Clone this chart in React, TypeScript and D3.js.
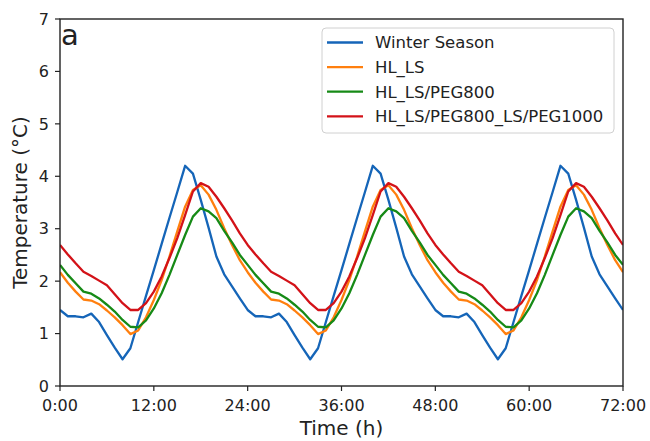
import React from "react";
import * as d3 from "d3";

// hourly readings, 0h .. 72h
const hours = d3.range(0, 73);

const winterSeason = [
  1.45, 1.33, 1.33, 1.31, 1.38, 1.22, 0.97, 0.73, 0.51, 0.72, 1.22, 1.72, 2.21, 2.71, 3.21, 3.7, 4.2, 4.05, 3.55, 3.02, 2.47, 2.13, 1.9, 1.67,
  1.45, 1.33, 1.33, 1.31, 1.38, 1.22, 0.97, 0.73, 0.51, 0.72, 1.22, 1.72, 2.21, 2.71, 3.21, 3.7, 4.2, 4.05, 3.55, 3.02, 2.47, 2.13, 1.9, 1.67,
  1.45, 1.33, 1.33, 1.31, 1.38, 1.22, 0.97, 0.73, 0.51, 0.72, 1.22, 1.72, 2.21, 2.71, 3.21, 3.7, 4.2, 4.05, 3.55, 3.02, 2.47, 2.13, 1.9, 1.67,
  1.45,
];
const hlLs = [
  2.17, 1.97, 1.8, 1.65, 1.63, 1.56, 1.44, 1.31, 1.16, 0.99, 1.06, 1.31, 1.64, 2.02, 2.47, 2.95, 3.42, 3.74, 3.83, 3.65, 3.36, 3.01, 2.69, 2.4,
  2.17, 1.97, 1.8, 1.65, 1.63, 1.56, 1.44, 1.31, 1.16, 0.99, 1.06, 1.31, 1.64, 2.02, 2.47, 2.95, 3.42, 3.74, 3.83, 3.65, 3.36, 3.01, 2.69, 2.4,
  2.17, 1.97, 1.8, 1.65, 1.63, 1.56, 1.44, 1.31, 1.16, 0.99, 1.06, 1.31, 1.64, 2.02, 2.47, 2.95, 3.42, 3.74, 3.83, 3.65, 3.36, 3.01, 2.69, 2.4,
  2.17,
];
const hlLsPeg800 = [
  2.31, 2.12, 1.96, 1.8, 1.76, 1.67, 1.55, 1.42, 1.26, 1.13, 1.12, 1.25, 1.48, 1.77, 2.12, 2.5, 2.88, 3.23, 3.39, 3.33, 3.2, 2.96, 2.74, 2.5,
  2.31, 2.12, 1.96, 1.8, 1.76, 1.67, 1.55, 1.42, 1.26, 1.13, 1.12, 1.25, 1.48, 1.77, 2.12, 2.5, 2.88, 3.23, 3.39, 3.33, 3.2, 2.96, 2.74, 2.5,
  2.31, 2.12, 1.96, 1.8, 1.76, 1.67, 1.55, 1.42, 1.26, 1.13, 1.12, 1.25, 1.48, 1.77, 2.12, 2.5, 2.88, 3.23, 3.39, 3.33, 3.2, 2.96, 2.74, 2.5,
  2.31,
];
const hlLsPeg1000 = [
  2.69, 2.51, 2.34, 2.18, 2.1, 2.01, 1.92, 1.75, 1.58, 1.45, 1.45, 1.58, 1.8, 2.09, 2.44, 2.82, 3.26, 3.71, 3.87, 3.8, 3.61, 3.39, 3.16, 2.91,
  2.69, 2.51, 2.34, 2.18, 2.1, 2.01, 1.92, 1.75, 1.58, 1.45, 1.45, 1.58, 1.8, 2.09, 2.44, 2.82, 3.26, 3.71, 3.87, 3.8, 3.61, 3.39, 3.16, 2.91,
  2.69, 2.51, 2.34, 2.18, 2.1, 2.01, 1.92, 1.75, 1.58, 1.45, 1.45, 1.58, 1.8, 2.09, 2.44, 2.82, 3.26, 3.71, 3.87, 3.8, 3.61, 3.39, 3.16, 2.91,
  2.69,
];

const seriesNames = ["Winter Season", "HL_LS", "HL_LS/PEG800", "HL_LS/PEG800_LS/PEG1000"];
const seriesValues = [winterSeason, hlLs, hlLsPeg800, hlLsPeg1000];
const seriesColors = ["#1565b8", "#ff7f0e", "#168a16", "#d31218"];

const xTicks = [0, 12, 24, 36, 48, 60, 72];
const xTickLabels = ["0:00", "12:00", "24:00", "36:00", "48:00", "60:00", "72:00"];
const yTicks = [0, 1, 2, 3, 4, 5, 6, 7];

export default function App() {
  const width = 650;
  const height = 441;
  const plot = { left: 60, right: 623, top: 19, bottom: 386 };
  const font = "DejaVu Sans, sans-serif";

  const x = d3.scaleLinear().domain([0, 72]).range([plot.left, plot.right]);
  const y = d3.scaleLinear().domain([0, 7]).range([plot.bottom, plot.top]);

  const line = d3
    .line<number>()
    .x((_, i) => x(hours[i]))
    .y((d) => y(d));

  // legend
  const lg = { x: 322, y: 28, w: 292, h: 105, row: 24.6 };

  return (
    <svg
      width={width}
      height={height}
      style={{ position: "absolute", left: 0, top: 0, background: "#fff" }}
      fontFamily={font}
    >
      <rect x={0} y={0} width={width} height={height} fill="#fff" />

      <defs>
        <clipPath id="clip">
          <rect x={plot.left} y={plot.top} width={plot.right - plot.left} height={plot.bottom - plot.top} />
        </clipPath>
      </defs>

      {/* 系列 */}
      <g clipPath="url(#clip)">
        {seriesValues.map((vals, i) => (
          <path
            key={seriesNames[i]}
            d={line(vals) ?? ""}
            fill="none"
            stroke={seriesColors[i]}
            strokeWidth={2.3}
            strokeLinejoin="round"
          />
        ))}
      </g>

      {/* frame */}
      <rect
        x={plot.left}
        y={plot.top}
        width={plot.right - plot.left}
        height={plot.bottom - plot.top}
        fill="none"
        stroke="#222"
        strokeWidth={1.4}
      />

      {/* x axis */}
      {xTicks.map((t, i) => (
        <g key={t} transform={`translate(${x(t)},${plot.bottom})`}>
          <line y1={0} y2={5} stroke="#222" strokeWidth={1.2} />
          <text y={25} textAnchor="middle" fontSize={16} fill="#222">
            {xTickLabels[i]}
          </text>
        </g>
      ))}
      <text x={(plot.left + plot.right) / 2} y={435} textAnchor="middle" fontSize={20} fill="#222">
        Time (h)
      </text>

      {/* y axis */}
      {yTicks.map((t) => (
        <g key={t} transform={`translate(${plot.left},${y(t)})`}>
          <line x1={0} x2={-5} stroke="#222" strokeWidth={1.2} />
          <text x={-11} dy="0.36em" textAnchor="end" fontSize={16} fill="#222">
            {t}
          </text>
        </g>
      ))}
      <text
        transform={`translate(27,${(plot.top + plot.bottom) / 2}) rotate(-90)`}
        textAnchor="middle"
        fontSize={20}
        fill="#222"
      >
        Temperature (°C)
      </text>

      <text x={61} y={45} fontSize={29} fill="#222">
        a
      </text>

      {/* 凡例 */}
      <rect x={lg.x} y={lg.y} width={lg.w} height={lg.h} rx={4} fill="#fff" stroke="#d0d0d0" strokeWidth={1} />
      {seriesNames.map((name, i) => (
        <g key={name} transform={`translate(${lg.x + 5},${lg.y + 14.5 + i * lg.row})`}>
          <line x1={0} x2={36} stroke={seriesColors[i]} strokeWidth={2.3} />
          <text x={48} dy="0.36em" fontSize={16.5} fill="#222">
            {name}
          </text>
        </g>
      ))}
    </svg>
  );
}
